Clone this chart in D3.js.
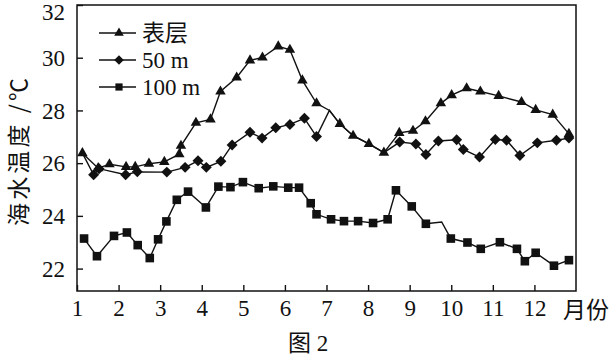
<!DOCTYPE html>
<html><head><meta charset="utf-8">
<script src="https://cdn.jsdelivr.net/npm/d3@7"></script>
<style>
html,body{margin:0;padding:0;background:#fff;}
svg{display:block;}
</style></head>
<body>
<svg id="chart" width="616" height="358"></svg>
<script>
// ---- data (months as fractional month positions, temps in °C) ----
const monthTicks = [1,2,3,4,5,6,7,8,9,10,11,12];
const tempTicks = [22,24,26,28,30,32];
const seriesNames = ["表层", "50 m", "100 m"];

const surfaceMonths = [1.13,1.51,1.78,2.18,2.40,2.73,3.10,3.46,3.50,3.86,4.21,4.45,4.84,5.16,5.46,5.84,6.12,6.42,6.76,7.07,7.32,7.64,8.02,8.38,8.75,9.08,9.38,9.75,10.01,10.37,10.70,11.14,11.69,12.03,12.44,12.83];
const surfaceTemps  = [26.38,25.81,25.96,25.86,25.86,25.98,26.05,26.34,26.66,27.53,27.66,28.72,29.25,29.90,30.01,30.43,30.30,29.14,28.27,28.00,27.49,27.04,26.73,26.40,27.15,27.23,27.59,28.27,28.58,28.84,28.72,28.55,28.32,28.02,27.84,27.11];
const surfaceUnmarked = [7.07];

const m50Months = [1.13,1.40,1.53,2.17,2.45,3.16,3.60,3.91,4.11,4.46,4.73,5.16,5.45,5.78,6.12,6.47,6.76,7.07,7.32,7.64,8.02,8.38,8.76,9.15,9.39,9.69,10.13,10.29,10.68,11.06,11.33,11.65,12.07,12.53,12.83];
const m50Temps  = [26.38,25.56,25.79,25.56,25.67,25.66,25.84,26.09,25.84,26.07,26.69,27.17,26.95,27.34,27.47,27.70,27.01,28.00,27.49,27.04,26.73,26.40,26.80,26.73,26.33,26.84,26.89,26.52,26.23,26.90,26.87,26.29,26.77,26.87,26.95];

const m100Months = [1.17,1.48,1.89,2.20,2.46,2.75,2.95,3.15,3.40,3.67,4.10,4.40,4.69,4.99,5.37,5.72,6.08,6.34,6.62,6.76,7.11,7.42,7.76,8.12,8.47,8.67,9.05,9.39,9.77,9.99,10.39,10.71,11.17,11.58,11.77,12.03,12.47,12.83];
const m100Temps  = [23.14,22.47,23.24,23.37,22.89,22.40,23.11,23.79,24.61,24.92,24.32,25.11,25.09,25.28,25.05,25.12,25.07,25.07,24.48,24.06,23.87,23.80,23.80,23.73,23.87,24.97,24.36,23.70,23.77,23.14,22.99,22.75,23.00,22.75,22.28,22.60,22.11,22.32];
const m100Unmarked = [9.77];

// ---- layout ----
const svg = d3.select("#chart");
const L = 77, R = 576, T = 5, B = 291;
const x = d3.scaleLinear().domain([1,13]).range([L,R]);
const y = d3.scaleLinear().domain([21.15,32]).range([B,T]);
const ink = "#111";
const serif = "'Liberation Serif','Times New Roman',serif";
const cjk = "'Noto Sans CJK SC','Noto Sans CJK JP',sans-serif";

// axes
const xAxis = d3.axisBottom(x).tickValues(monthTicks).tickFormat(d3.format("d"))
  .tickSizeInner(-6).tickSizeOuter(0).tickPadding(9);
const yAxis = d3.axisLeft(y).tickValues(tempTicks).tickFormat(d3.format("d"))
  .tickSizeInner(-6).tickSizeOuter(0).tickPadding(12);

const gx = svg.append("g").attr("transform",`translate(0,${B})`).call(xAxis);
const gy = svg.append("g").attr("transform",`translate(${L},0)`).call(yAxis);
[gx,gy].forEach(g=>{
  g.select(".domain").remove();
  g.selectAll(".tick line").attr("stroke",ink).attr("stroke-width",1.4);
  g.selectAll(".tick text").attr("fill",ink).style("font-family",serif).style("font-size","23px");
});
gy.selectAll(".tick text").attr("dy",d=>d===32?"0.62em":"0.34em");

// frame
svg.append("rect").attr("x",L).attr("y",T).attr("width",R-L).attr("height",B-T)
  .attr("fill","none").attr("stroke",ink).attr("stroke-width",1.5);

// axis titles
svg.append("text").attr("x",563).attr("y",318).text("月份")
  .style("font-family",cjk).style("font-size","23px").attr("fill",ink);
svg.append("text").attr("transform","translate(27,152) rotate(-90)")
  .attr("text-anchor","middle").attr("textLength",148).attr("lengthAdjust","spacing")
  .text("海水温度 /℃")
  .style("font-family",cjk).style("font-size","23px").attr("fill",ink);
svg.append("text").attr("x",308).attr("y",351).attr("text-anchor","middle")
  .style("font-size","23px").attr("fill",ink)
  .call(t=>{ t.append("tspan").style("font-family",cjk).text("图");
             t.append("tspan").style("font-family",serif).text(" 2"); });

// series
const line = d3.line().x(d=>x(d[0])).y(d=>y(d[1]));
const sym = {
  tri: d3.symbol().type(d3.symbolTriangle).size(48),
  dia: d3.symbol().type(d3.symbolSquare).size(60),
  sq:  d3.symbol().type(d3.symbolSquare).size(74)
};
function zip(ms, ts){ return ms.map((m,i)=>[m,ts[i]]); }
const surf = zip(surfaceMonths, surfaceTemps);
const m50 = zip(m50Months, m50Temps);
const m100 = zip(m100Months, m100Temps);

function drawSeries(pts, shape, rot, skipFn){
  svg.append("path").datum(pts).attr("d",line).attr("fill","none")
    .attr("stroke",ink).attr("stroke-width",1.4);
  svg.append("g").selectAll("path").data(pts.filter(p=>!skipFn(p))).join("path")
    .attr("d",sym[shape]).attr("fill",ink)
    .attr("transform",d=>`translate(${x(d[0])},${y(d[1])}) rotate(${rot})`);
}
const near = (a,b)=>Math.abs(a-b)<0.005;
drawSeries(m100,"sq",0,p=>m100Unmarked.some(m=>near(m,p[0])));
drawSeries(m50,"dia",45,p=>surf.some(s=>near(s[0],p[0])&&near(s[1],p[1])));
drawSeries(surf,"tri",0,p=>surfaceUnmarked.some(m=>near(m,p[0])));

// legend
const legRot = [0,45,0];
const legY = [33,60,87];
seriesNames.forEach((name,i)=>{
  const g = svg.append("g");
  g.append("line").attr("x1",99).attr("x2",136).attr("y1",legY[i]).attr("y2",legY[i])
    .attr("stroke",ink).attr("stroke-width",1.4);
  g.append("path").attr("d",d3.symbol().type(i===0?d3.symbolTriangle:d3.symbolSquare).size(i===0?40:(i===1?46:52)))
    .attr("fill",ink).attr("transform",`translate(119,${legY[i]}) rotate(${legRot[i]})`);
  g.append("text").attr("x",142).attr("y",legY[i]).attr("dy",i===0?"0.36em":"0.33em").text(name)
    .style("font-family",i===0?cjk:serif).style("font-size","23px").attr("fill",ink);
});
</script>
</body></html>
